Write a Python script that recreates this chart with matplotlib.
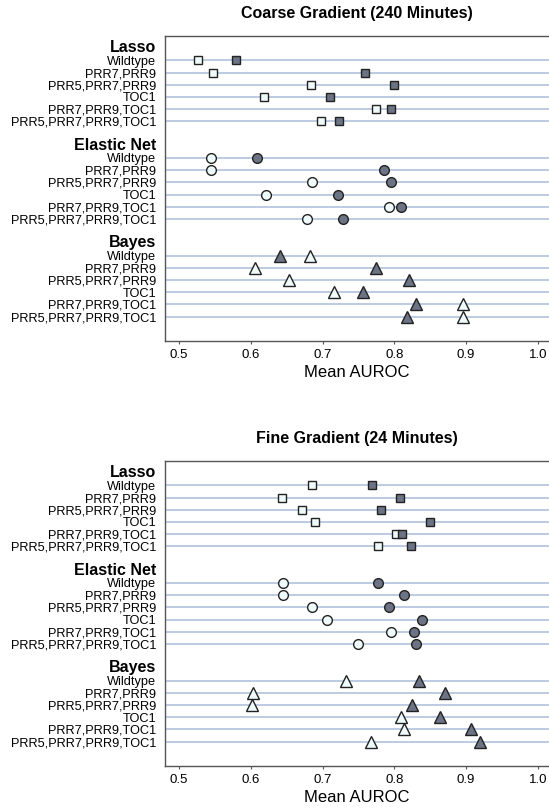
import matplotlib.pyplot as plt

plt.rcParams['font.family'] = ['Liberation Sans', 'DejaVu Sans']

methods = ['Lasso', 'Elastic Net', 'Bayes']
strains = ['Wildtype', 'PRR7,PRR9', 'PRR5,PRR7,PRR9', 'TOC1',
           'PRR7,PRR9,TOC1', 'PRR5,PRR7,PRR9,TOC1']
markers = ['s', 'o', '^']
sizes = [6, 7, 8.5]

# Coarse gradient (240 min): open / filled markers per method
coarse_open = {
    'Lasso':       [0.526, 0.548, 0.684, 0.618, 0.774, 0.698],
    'Elastic Net': [0.544, 0.544, 0.685, 0.621, 0.792, 0.678],
    'Bayes':       [0.682, 0.606, 0.653, 0.716, 0.896, 0.895],
}
coarse_filled = {
    'Lasso':       [0.580, 0.759, 0.799, 0.711, 0.796, 0.723],
    'Elastic Net': [0.609, 0.786, 0.795, 0.722, 0.810, 0.728],
    'Bayes':       [0.641, 0.775, 0.821, 0.757, 0.830, 0.818],
}

# Fine gradient (24 min)
fine_open = {
    'Lasso':       [0.685, 0.644, 0.671, 0.690, 0.802, 0.777],
    'Elastic Net': [0.645, 0.645, 0.685, 0.706, 0.795, 0.749],
    'Bayes':       [0.732, 0.603, 0.602, 0.810, 0.814, 0.767],
}
fine_filled = {
    'Lasso':       [0.769, 0.808, 0.782, 0.850, 0.811, 0.823],
    'Elastic Net': [0.777, 0.813, 0.792, 0.838, 0.827, 0.830],
    'Bayes':       [0.834, 0.870, 0.825, 0.864, 0.907, 0.920],
}

xticks = [0.5, 0.6, 0.7, 0.8, 0.9, 1.0]

open_color = '#effbfb'
filled_color = '#6b7384'
grid_color = '#b7c7df'
spine_color = '#555555'


def draw_panel(ax, title, open_vals, filled_vals):
    ypos = []
    ylabels = []
    for g, m in enumerate(methods):
        rows = [g * 8 + r for r in range(len(strains))]
        ypos += rows
        ylabels += strains
        for y in rows:
            ax.axhline(y, color=grid_color, lw=1.3, zorder=1)
        ax.plot(open_vals[m], rows, linestyle='none', marker=markers[g],
                ms=sizes[g], mfc=open_color, mec='#222222', mew=1.0, zorder=3)
        ax.plot(filled_vals[m], rows, linestyle='none', marker=markers[g],
                ms=sizes[g], mfc=filled_color, mec='#222222', mew=1.0, zorder=4)
        ax.annotate(m, xy=(0, g * 8 - 1.05), xycoords=('axes fraction', 'data'),
                    xytext=(-6.5, 0), textcoords='offset points',
                    ha='right', va='center', fontsize=11.5, fontweight='bold')
    ax.set_yticks(ypos)
    ax.set_yticklabels(ylabels, fontsize=9.2)
    ax.set_ylim(23, -2)
    ax.set_xlim(0.4805, 1.0155)
    ax.set_xticks(xticks)
    ax.set_xticklabels([f'{t:.1f}' for t in xticks], fontsize=9.5)
    ax.tick_params(axis='y', length=0, pad=6.5)
    ax.tick_params(axis='x', length=2, color=spine_color, pad=4)
    ax.set_xlabel('Mean AUROC', fontsize=12, labelpad=3)
    ax.set_title(title, fontsize=11.5, fontweight='bold', pad=13)
    for side in ['top', 'left', 'bottom']:
        ax.spines[side].set_color(spine_color)
        ax.spines[side].set_linewidth(1.0)
    ax.spines['right'].set_visible(False)


fig = plt.figure(figsize=(5.49, 8.09), dpi=100)
ax1 = fig.add_axes([0.3005, 0.5785, 0.6995, 0.377])
ax2 = fig.add_axes([0.3005, 0.0532, 0.6995, 0.377])

draw_panel(ax1, 'Coarse Gradient (240 Minutes)', coarse_open, coarse_filled)
draw_panel(ax2, 'Fine Gradient (24 Minutes)', fine_open, fine_filled)

fig.savefig('out.png', dpi=100)
